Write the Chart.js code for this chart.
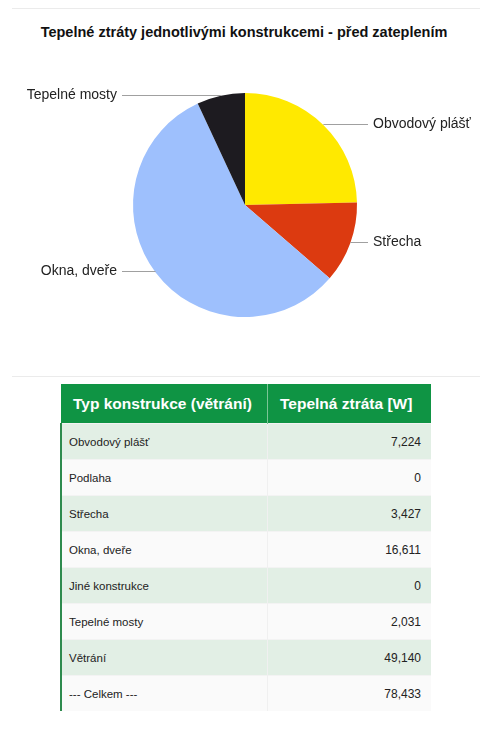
<!DOCTYPE html>
<html>
<head>
<meta charset="utf-8">
<script src="https://cdn.jsdelivr.net/npm/chart.js@4/dist/chart.umd.min.js"></script>
<style>
  html, body { margin: 0; padding: 0; background: #fff; }
  body { position: relative; width: 480px; height: 734px; overflow: hidden; font-family: Arial, "Liberation Sans", sans-serif; }
  .rule { position: absolute; left: 12px; right: 0; height: 1px; background: #ebebeb; }
  #title { position: absolute; top: 24px; left: 0; width: 488px; text-align: center; font-weight: bold; font-size: 14.5px; color: #111; }
  #pieWrap { position: absolute; top: 0; left: 0; width: 480px; height: 370px; }
  table { position: absolute; top: 384px; left: 60px; width: 371px; table-layout: fixed; border-collapse: collapse; font-size: 11.5px; color: #222; }
  th { background: #0f9444; color: #fff; font-size: 15.5px; font-weight: bold; height: 39px; padding: 0 4px 0 12px; text-align: left; white-space: nowrap; border-right: 1px solid #7cc596; }
  th:first-child { width: 190px; }
  th:last-child { border-right: none; padding-left: 12px; }
  td { height: 35px; padding: 0 10px 0 10px; border-right: 1px solid #f0f0f0; border-top: 1px solid #f3f3f3; }
  td:first-child { border-left: 2px solid #2e8b4e; padding-left: 7px; }
  td:last-child { text-align: right; border-right: none; font-size: 12px; }
  tr.odd td { background: #e2efe5; }
  tr.even td { background: #fafafa; }
</style>
</head>
<body>
<div class="rule" style="top:8px"></div>
<div id="title">Tepelné ztráty jednotlivými konstrukcemi - před zateplením</div>
<div id="pieWrap"><canvas id="lossChart" width="480" height="370"></canvas></div>
<div class="rule" style="top:376px"></div>
<table id="lossTable"></table>

<script>
  // heat losses per building element [W]
  const constructionLabels = ['Obvodový plášť', 'Podlaha', 'Střecha', 'Okna, dveře', 'Jiné konstrukce', 'Tepelné mosty'];
  const constructionLosses = [7224, 0, 3427, 16611, 0, 2031];
  const sliceColors = ['#ffe900', '#3366cc', '#dc3a10', '#9ec0fd', '#0f9444', '#1d1b20'];

  const ventilationLabel = 'Větrání';
  const ventilationLoss = 49140;

  const tableHeaders = ['Typ konstrukce (větrání)', 'Tepelná ztráta [W]'];
  const totalLabel = '--- Celkem ---';

  // leader lines + outside labels, like the old google pie
  const leaderLabels = {
    id: 'leaderLabels',
    afterDraw(chart) {
      const ctx = chart.ctx;
      const meta = chart.getDatasetMeta(0);
      const values = chart.data.datasets[0].data;
      ctx.save();
      ctx.font = '14px Arial, "Liberation Sans", sans-serif';
      ctx.textBaseline = 'middle';
      meta.data.forEach(function(arc, i) {
        if (!values[i]) return;
        const p = arc.getProps(['x', 'y', 'startAngle', 'endAngle', 'outerRadius'], true);
        const mid = (p.startAngle + p.endAngle) / 2;
        const ex = p.x + Math.cos(mid) * p.outerRadius;
        const ey = Math.round(p.y + Math.sin(mid) * p.outerRadius) - 0.5;
        const right = Math.cos(mid) >= 0;
        const endX = right ? p.x + p.outerRadius + 11 : p.x - p.outerRadius - 11;

        ctx.strokeStyle = '#a0a0a0';
        ctx.lineWidth = 1;
        ctx.beginPath();
        ctx.moveTo(ex, ey);
        ctx.lineTo(endX, ey);
        ctx.stroke();

        ctx.fillStyle = '#222';
        ctx.textAlign = right ? 'left' : 'right';
        ctx.fillText(chart.data.labels[i], right ? endX + 5 : endX - 5, ey);
      });
      ctx.restore();
    }
  };

  const ctx = document.getElementById('lossChart').getContext('2d');
  const chart = new Chart(ctx, {
    type: 'pie',
    data: {
      labels: constructionLabels,
      datasets: [{
        data: constructionLosses,
        backgroundColor: sliceColors,
        borderWidth: 0
      }]
    },
    options: {
      responsive: false,
      animation: false,
      devicePixelRatio: 1,
      layout: {
        padding: { left: 133, right: 123, top: 93, bottom: 53 }
      },
      plugins: {
        legend: { display: false },
        tooltip: { enabled: false }
      }
    },
    plugins: [leaderLabels]
  });

  // table below the chart
  function fmt(v) {
    return v.toLocaleString('en-US');
  }

  const rows = constructionLabels.map(function(label, i) {
    return [label, constructionLosses[i]];
  });
  rows.push([ventilationLabel, ventilationLoss]);
  const total = rows.reduce(function(s, r) { return s + r[1]; }, 0);
  rows.push([totalLabel, total]);

  const table = document.getElementById('lossTable');
  let html = '<tr><th>' + tableHeaders[0] + '</th><th>' + tableHeaders[1] + '</th></tr>';
  rows.forEach(function(r, i) {
    html += '<tr class="' + (i % 2 === 0 ? 'odd' : 'even') + '"><td>' + r[0] + '</td><td>' + fmt(r[1]) + '</td></tr>';
  });
  table.innerHTML = html;
</script>
</body>
</html>
